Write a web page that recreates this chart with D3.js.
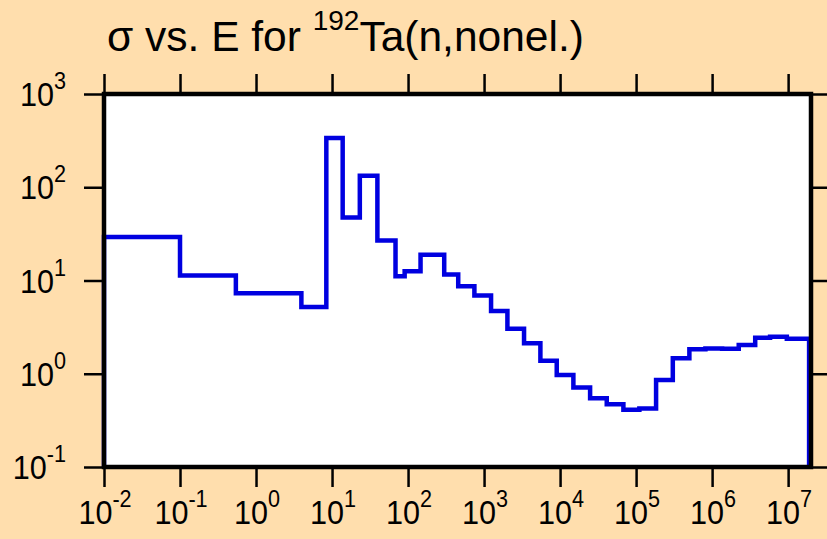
<!DOCTYPE html>
<html><head><meta charset="utf-8">
<script src="https://cdn.jsdelivr.net/npm/d3@7"></script>
<style>body{margin:0;background:#FFDEAD}</style>
</head><body><script>
// Bin edges of the step histogram (eV)
const energyEdges = [0.01, 0.1, 0.543, 3.95, 8.41, 13.8, 23.2, 39.5, 68.4, 90.2, 146, 299, 457, 746,
  1236, 2028, 3357, 5508, 9036, 14962, 24831, 41115, 68077, 110408, 183231, 304089, 502343,
  816582, 1.355e6, 2.24e6, 3.69e6, 5.79e6, 9.62e6, 1.888e7];
// Cross section in each bin (b)
const sigmaValues = [29.3, 11.3, 7.3, 5.2, 338, 47.5, 133, 26.8, 11.1, 12.6, 18.9, 11.6, 8.7, 6.9,
  4.7, 3.04, 2.12, 1.38, 0.97, 0.71, 0.545, 0.47, 0.41, 0.425, 0.857, 1.47, 1.83, 1.87, 1.85,
  2.03, 2.44, 2.5, 2.38];
const xTickExponents = [-2, -1, 0, 1, 2, 3, 4, 5, 6, 7];
const yTickExponents = [-1, 0, 1, 2, 3];
const xDomain = [1e-2, 2e7];
const yDomain = [0.1, 1000];
const titleMain1 = "σ vs. E for ";
const titleSup = "192";
const titleMain2 = "Ta(n,nonel.)";

const W = 827, H = 539;
const L = 104, R = 811, T = 94, B = 467;
const FONT = "'Liberation Sans', Arial, sans-serif";

const svg = d3.select("body").append("svg").attr("width", W).attr("height", H)
  .style("font-family", FONT);
svg.append("rect").attr("width", W).attr("height", H).attr("fill", "#FFDEAD");

const x = d3.scaleLog().domain(xDomain).range([L, R]);
const y = d3.scaleLog().domain(yDomain).range([B, T]);

svg.append("rect").attr("x", L).attr("y", T).attr("width", R - L).attr("height", B - T).attr("fill", "#fff");

// step data
const pts = [[energyEdges[0], yDomain[0]]];
sigmaValues.forEach((v, i) => pts.push([energyEdges[i], v]));
pts.push([energyEdges[energyEdges.length - 1], sigmaValues[sigmaValues.length - 1]]);
pts.push([energyEdges[energyEdges.length - 1], yDomain[0]]);

const line = d3.line().x(d => x(d[0])).y(d => y(d[1])).curve(d3.curveStepAfter);
svg.append("path").datum(pts).attr("d", line)
  .attr("fill", "none").attr("stroke", "#0000e0").attr("stroke-width", 4.5)
  .attr("stroke-linejoin", "miter");

// axes (tick lines)
const xv = xTickExponents.map(e => Math.pow(10, e));
const yv = yTickExponents.map(e => Math.pow(10, e));
function styleAxis(g) {
  g.select(".domain").remove();
  g.selectAll(".tick line").attr("stroke", "#000").attr("stroke-width", 2.5);
  g.selectAll(".tick text").remove();
}
svg.append("g").attr("transform", `translate(0,${B})`)
  .call(d3.axisBottom(x).tickValues(xv).tickSize(20).tickFormat("")).call(styleAxis);
svg.append("g").attr("transform", `translate(0,${T})`)
  .call(d3.axisTop(x).tickValues(xv).tickSize(20).tickFormat("")).call(styleAxis);
svg.append("g").attr("transform", `translate(${L},0)`)
  .call(d3.axisLeft(y).tickValues(yv).tickSize(20).tickFormat("")).call(styleAxis);
svg.append("g").attr("transform", `translate(${R},0)`)
  .call(d3.axisRight(y).tickValues(yv).tickSize(20).tickFormat("")).call(styleAxis);

// frame
svg.append("rect").attr("x", L).attr("y", T).attr("width", R - L).attr("height", B - T)
  .attr("fill", "none").attr("stroke", "#000").attr("stroke-width", 4.5);

// tick labels (slightly condensed, as in the reference)
function powLabel(px, py, anchor, exp) {
  const t = svg.append("text").attr("transform", `translate(${px},${py}) scale(0.9,1)`)
    .attr("text-anchor", anchor).attr("fill", "#000");
  t.append("tspan").attr("font-size", 34).text("10");
  t.append("tspan").attr("font-size", 24).attr("dy", -17).text(String(exp));
}
xTickExponents.forEach(e => powLabel(x(Math.pow(10, e)) + 1, 524, "middle", e));
yTickExponents.forEach(e => powLabel(66, y(Math.pow(10, e)) + 12, "end", e));

// title
const tt = svg.append("text").attr("x", 107).attr("y", 51).attr("fill", "#000");
tt.append("tspan").attr("font-size", 42.5).text(titleMain1);
tt.append("tspan").attr("font-size", 28).attr("dy", -21).text(titleSup);
tt.append("tspan").attr("font-size", 42.5).attr("dy", 21).text(titleMain2);
</script></body></html>
